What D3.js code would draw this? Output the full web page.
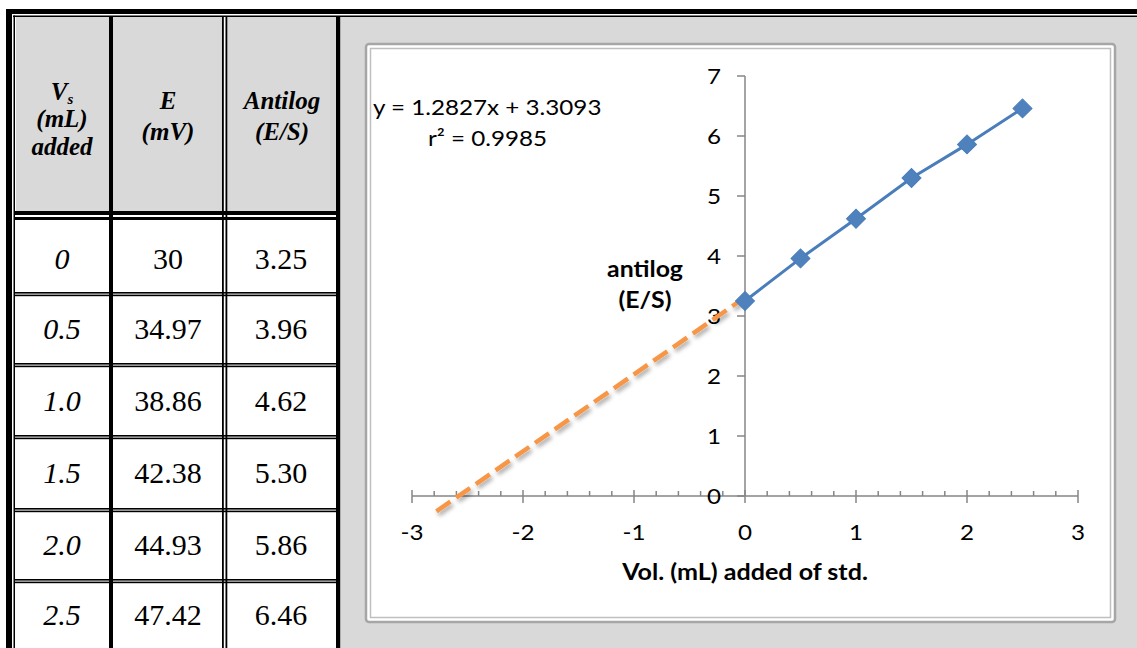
<!DOCTYPE html>
<html>
<head>
<meta charset="utf-8">
<style>
    body { margin: 0; background: #fff; }
    svg { display: block; }
    .serif { font-family: "Liberation Serif", "Times New Roman", serif; }
    .sans { font-family: Lato, "Open Sans", sans-serif; }
</style>
</head>
<body>
<div id="chart"></div>
<script src="https://cdn.jsdelivr.net/npm/d3@7"></script>
<script>
    // table / chart data
    var vols = [0, 0.5, 1.0, 1.5, 2.0, 2.5];
    var volLabels = ["0", "0.5", "1.0", "1.5", "2.0", "2.5"];
    var emf = ["30", "34.97", "38.86", "42.38", "44.93", "47.42"];
    var antilog = [3.25, 3.96, 4.62, 5.30, 5.86, 6.46];
    var slope = 1.2827, intercept = 3.3093, r2 = 0.9985;
    var trendStart = -2.78;
    var xTicks = [-3, -2, -1, 0, 1, 2, 3];
    var yTicks = [0, 1, 2, 3, 4, 5, 6, 7];

    var w = 1137, h = 648;
    var sx = 1.1; // chart text looks a bit stretched sideways
    var svg = d3.select("#chart").append("svg").attr("width", w).attr("height", h);

    function stretched(g, x, y, str, scale) {
        return g.append("text")
            .attr("transform", "translate(" + x + "," + y + ") scale(" + scale + ",1)")
            .text(str);
    }

    // ---------- table on the left ----------
    var colEdges = [[16, 109], [113, 222], [227, 336]];
    var rowEdges = [[220, 292], [295, 363], [366, 435], [438, 508], [511, 579], [582, 660]];

    // header cells grey
    colEdges.forEach(function (c) {
        svg.append("rect").attr("x", c[0]).attr("y", 17).attr("width", c[1] - c[0]).attr("height", 194)
            .attr("fill", "#d9d9d9");
    });

    // outer borders
    svg.append("rect").attr("x", 6).attr("y", 9).attr("width", w - 6).attr("height", 5).attr("fill", "#000");
    svg.append("rect").attr("x", 13).attr("y", 15.5).attr("width", w - 13).attr("height", 1.5).attr("fill", "#000");
    svg.append("rect").attr("x", 6).attr("y", 9).attr("width", 6).attr("height", h).attr("fill", "#000");
    svg.append("rect").attr("x", 13.5).attr("y", 15.5).attr("width", 1.5).attr("height", h).attr("fill", "#000");

    // column dividers
    svg.append("rect").attr("x", 109).attr("y", 17).attr("width", 4).attr("height", h).attr("fill", "#000");
    svg.append("rect").attr("x", 222).attr("y", 17).attr("width", 1.8).attr("height", h).attr("fill", "#000");
    svg.append("rect").attr("x", 225.5).attr("y", 17).attr("width", 1.8).attr("height", h).attr("fill", "#000");
    svg.append("rect").attr("x", 336).attr("y", 17).attr("width", 4.5).attr("height", h).attr("fill", "#000");

    // header bottom double line
    svg.append("rect").attr("x", 15).attr("y", 211).attr("width", 322).attr("height", 4).attr("fill", "#000");
    svg.append("rect").attr("x", 15).attr("y", 217).attr("width", 322).attr("height", 3).attr("fill", "#000");

    // row separators
    rowEdges.slice(0, -1).forEach(function (r) {
        svg.append("rect").attr("x", 15).attr("y", r[1]).attr("width", 322).attr("height", 1.6).attr("fill", "#000");
        svg.append("rect").attr("x", 15).attr("y", r[1] + 2.6).attr("width", 322).attr("height", 1.6).attr("fill", "#000");
    });

    // header text
    var hdr = svg.append("g").attr("class", "serif").attr("font-weight", "bold").attr("font-style", "italic")
        .attr("font-size", 25).attr("text-anchor", "middle").attr("fill", "#000");
    var vs = hdr.append("text").attr("x", 62).attr("y", 100);
    vs.append("tspan").text("V");
    vs.append("tspan").attr("font-size", 15).attr("dy", 4).text("s");
    hdr.append("text").attr("x", 62).attr("y", 127).text("(mL)");
    hdr.append("text").attr("x", 62).attr("y", 155).text("added");
    hdr.append("text").attr("x", 168).attr("y", 109).text("E");
    hdr.append("text").attr("x", 168).attr("y", 140).text("(mV)");
    hdr.append("text").attr("x", 282).attr("y", 109).text("Antilog");
    hdr.append("text").attr("x", 282).attr("y", 140).text("(E/S)");

    // body text
    var body = svg.append("g").attr("class", "serif").attr("font-size", 30).attr("text-anchor", "middle")
        .attr("fill", "#000");
    var rowBase = [269, 339, 411, 483, 555, 625];
    body.selectAll(".c1").data(volLabels).enter().append("text")
        .attr("x", 62).attr("y", function (d, i) { return rowBase[i]; })
        .attr("font-style", "italic").text(function (d) { return d; });
    body.selectAll(".c2").data(emf).enter().append("text")
        .attr("x", 168).attr("y", function (d, i) { return rowBase[i]; })
        .text(function (d) { return d; });
    body.selectAll(".c3").data(antilog).enter().append("text")
        .attr("x", 281).attr("y", function (d, i) { return rowBase[i]; })
        .text(function (d) { return d3.format(".2f")(d); });

    // ---------- chart on the right ----------
    svg.append("rect").attr("x", 340.5).attr("y", 17).attr("width", w - 340.5).attr("height", h - 17)
        .attr("fill", "#d9d9d9");
    svg.append("rect").attr("x", 366).attr("y", 44).attr("width", 749).attr("height", 578).attr("rx", 3)
        .attr("fill", "#fff").attr("stroke", "#a6a6a6").attr("stroke-width", 2.5);
    svg.append("rect").attr("x", 370.5).attr("y", 48.5).attr("width", 740).attr("height", 569)
        .attr("fill", "none").attr("stroke", "#bfbfbf").attr("stroke-width", 1.5);

    var xScale = d3.scaleLinear().domain([-3, 3]).range([412, 1078]);
    var yScale = d3.scaleLinear().domain([0, 7]).range([496, 76]);
    var axisColor = "#868686";

    var defs = svg.append("defs");
    var f = defs.append("filter").attr("id", "shadow").attr("x", "-20%").attr("y", "-20%")
        .attr("width", "140%").attr("height", "140%");
    f.append("feDropShadow").attr("dx", 2).attr("dy", 3).attr("stdDeviation", 2)
        .attr("flood-color", "#000").attr("flood-opacity", 0.35);

    // x axis with minor ticks
    var gx = svg.append("g").attr("transform", "translate(0," + yScale(0) + ")");
    gx.append("line").attr("x1", xScale(-3)).attr("x2", xScale(3)).attr("stroke", axisColor).attr("stroke-width", 1.5);
    var minor = d3.range(-3, 3.001, 0.2).filter(function (v) { return Math.abs(v - Math.round(v)) > 0.01; });
    gx.selectAll(".minor").data(minor).enter().append("line")
        .attr("x1", function (d) { return xScale(d); }).attr("x2", function (d) { return xScale(d); })
        .attr("y1", -5).attr("y2", 0).attr("stroke", axisColor).attr("stroke-width", 1.5);
    gx.selectAll(".major").data(xTicks).enter().append("line")
        .attr("x1", function (d) { return xScale(d); }).attr("x2", function (d) { return xScale(d); })
        .attr("y1", -6).attr("y2", 7).attr("stroke", axisColor).attr("stroke-width", 1.5);
    var gxl = gx.append("g").attr("class", "sans").attr("text-anchor", "middle").attr("font-size", 22).attr("fill", "#000");
    xTicks.forEach(function (d) { stretched(gxl, xScale(d), 44, d, sx); });

    // y axis
    var gy = svg.append("g").attr("transform", "translate(" + xScale(0) + ",0)");
    gy.append("line").attr("y1", yScale(0)).attr("y2", yScale(7)).attr("stroke", axisColor).attr("stroke-width", 1.5);
    gy.selectAll(".major").data(yTicks).enter().append("line")
        .attr("y1", function (d) { return yScale(d); }).attr("y2", function (d) { return yScale(d); })
        .attr("x1", -8).attr("x2", 0).attr("stroke", axisColor).attr("stroke-width", 1.5);
    var gyl = gy.append("g").attr("class", "sans").attr("text-anchor", "end").attr("font-size", 22).attr("fill", "#000");
    yTicks.forEach(function (d) { stretched(gyl, -24, yScale(d) + 8, d, sx); });

    var line = d3.line()
        .x(function (d) { return xScale(d[0]); })
        .y(function (d) { return yScale(d[1]); });

    // trend line (backward forecast)
    svg.append("path")
        .datum([[trendStart, slope * trendStart + intercept], [0, intercept]])
        .attr("d", line).attr("fill", "none").attr("stroke", "#f79646")
        .attr("stroke-width", 4.5).attr("stroke-dasharray", "17,7").attr("filter", "url(#shadow)");

    var pts = vols.map(function (v, i) { return [v, antilog[i]]; });
    svg.append("path").datum(pts).attr("d", line).attr("fill", "none")
        .attr("stroke", "#4a7ebb").attr("stroke-width", 3);

    svg.selectAll(".pt").data(pts).enter().append("path")
        .attr("d", d3.symbol().type(d3.symbolSquare).size(180))
        .attr("transform", function (d) { return "translate(" + xScale(d[0]) + "," + yScale(d[1]) + ") rotate(45)"; })
        .attr("fill", "#4f81bd").attr("stroke", "#4a7ebb").attr("stroke-width", 1);

    // labels
    var lab = svg.append("g").attr("class", "sans").attr("fill", "#000").attr("font-size", 22);
    stretched(lab, 373, 115, "y = " + slope + "x + " + intercept, sx);
    stretched(lab, 428, 146, "r² = " + r2, sx);
    var bold = lab.append("g").attr("font-weight", "bold").attr("text-anchor", "middle");
    stretched(bold, 645, 277, "antilog", 1.13);
    stretched(bold, 645, 308, "(E/S)", 1.13);
    stretched(bold, 745, 580, "Vol. (mL) added of std.", 1.14);
</script>
</body>
</html>
